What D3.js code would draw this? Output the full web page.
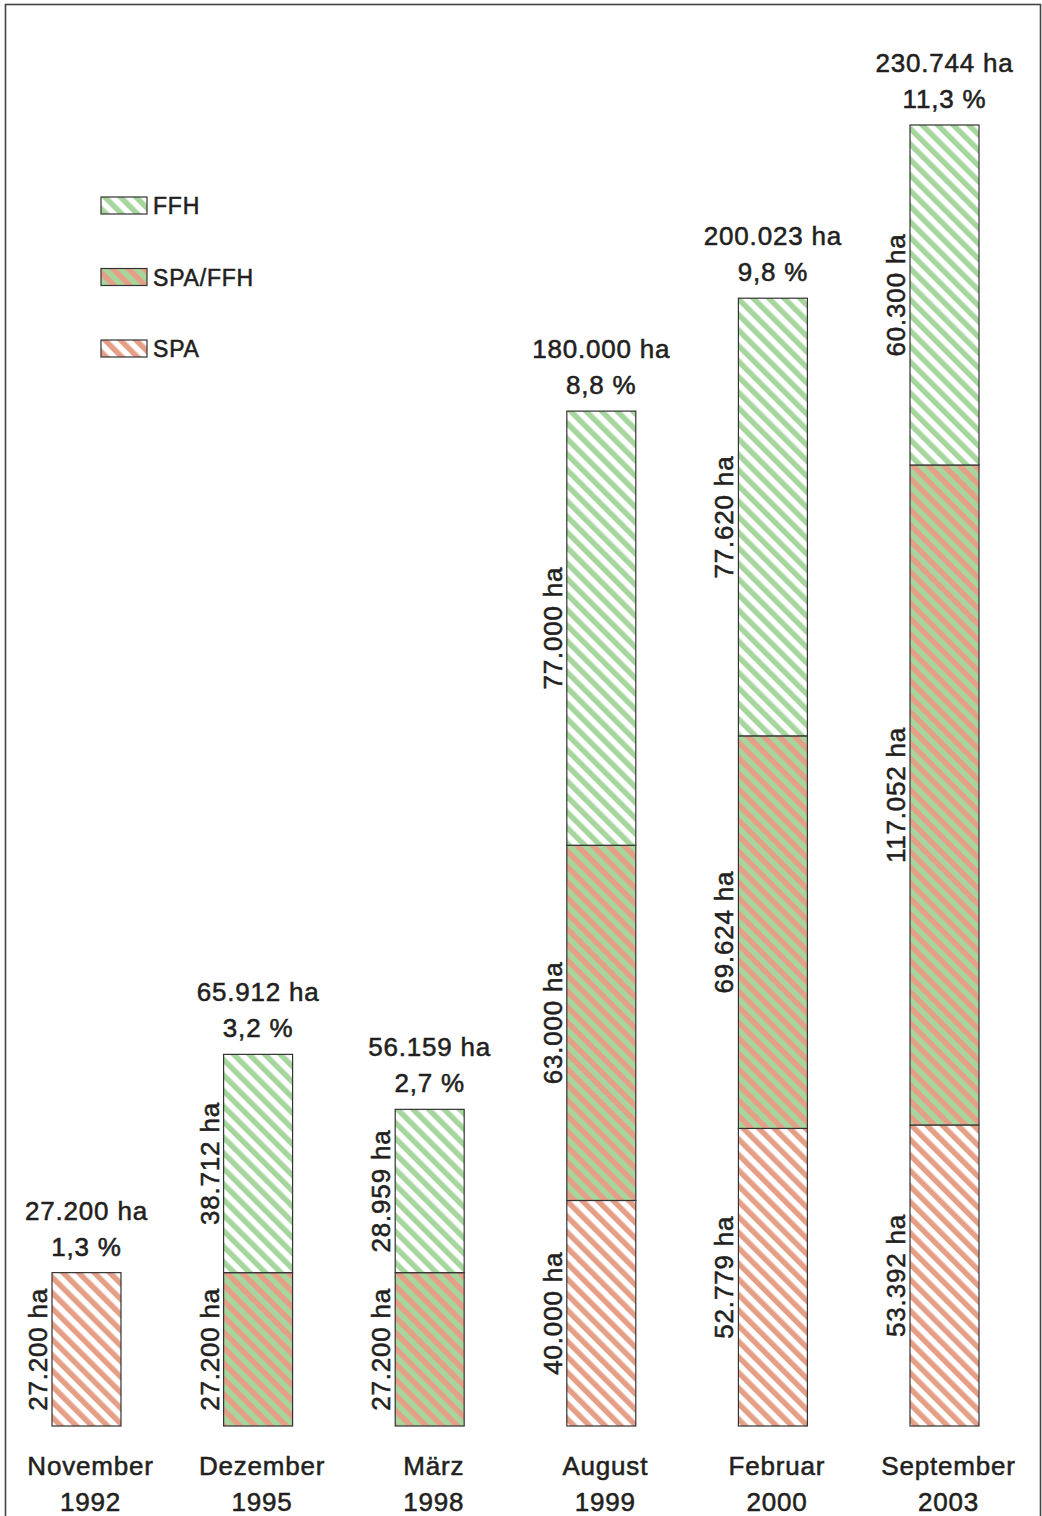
<!DOCTYPE html>
<html>
<head>
<meta charset="utf-8">
<script src="https://cdn.jsdelivr.net/npm/d3@7"></script>
<style>
  html, body { margin: 0; padding: 0; background: #fff; }
  svg { display: block; }
  text { font-family: "Liberation Sans", Arial, Helvetica, sans-serif; fill: #231f20; stroke: #231f20; stroke-width: 0.55px; letter-spacing: 0.8px; }
</style>
</head>
<body>
<svg id="chart" width="1042" height="1516"></svg>
<script>
// ---- data ----
const categories = ["November 1992", "Dezember 1995", "März 1998", "August 1999", "Februar 2000", "September 2003"];
const catLine1 = ["November", "Dezember", "März", "August", "Februar", "September"];
const catLine2 = ["1992", "1995", "1998", "1999", "2000", "2003"];
const seriesKeys = ["SPA", "SPA/FFH", "FFH"];
const spa    = [27200, 0, 0, 40000, 52779, 53392];
const spaFfh = [0, 27200, 27200, 63000, 69624, 117052];
const ffh    = [0, 38712, 28959, 77000, 77620, 60300];
const totals = [27200, 65912, 56159, 180000, 200023, 230744];
const totalLabels = ["27.200 ha", "65.912 ha", "56.159 ha", "180.000 ha", "200.023 ha", "230.744 ha"];
const percentLabels = ["1,3 %", "3,2 %", "2,7 %", "8,8 %", "9,8 %", "11,3 %"];
const legendOrder = ["FFH", "SPA/FFH", "SPA"];

const fmt = v => d3.format(",")(v).replace(/,/g, ".") + " ha";

// ---- setup ----
const svg = d3.select("#chart");
const W = 1042, H = 1516;

// frame
svg.append("rect").attr("x", 5.5).attr("y", 4.5).attr("width", 1035).attr("height", H + 20)
  .attr("fill", "none").attr("stroke", "#444").attr("stroke-width", 1.6);

const green = "#a6d69d", salmon = "#e69f87";
const defs = svg.append("defs");
function stripe(id, bg, fg) {
  const s = 11;
  const p = defs.append("pattern").attr("id", id).attr("patternUnits", "userSpaceOnUse")
    .attr("width", s).attr("height", s).attr("patternTransform", "rotate(-45)");
  p.append("rect").attr("width", s).attr("height", s).attr("fill", bg);
  p.append("rect").attr("width", s / 2).attr("height", s).attr("fill", fg);
}
stripe("pFFH", "#ffffff", green);
stripe("pSPA", "#ffffff", salmon);
stripe("pBOTH", salmon, green);
const fillFor = { "FFH": "url(#pFFH)", "SPA": "url(#pSPA)", "SPA/FFH": "url(#pBOTH)" };

const x = d3.scaleBand().domain(categories).range([52, 979]).paddingInner(0.598).paddingOuter(0);
const y = d3.scaleLinear().domain([0, 230744]).range([1426, 125]);

const rows = categories.map((c, i) => ({ cat: c, "SPA": spa[i], "SPA/FFH": spaFfh[i], "FFH": ffh[i] }));
const stacked = d3.stack().keys(seriesKeys)(rows);

const segs = [];
stacked.forEach(layer => {
  layer.forEach((d, i) => {
    if (d[1] - d[0] > 0) segs.push({ key: layer.key, i, y0: d[0], y1: d[1], v: d[1] - d[0] });
  });
});

// bars
svg.append("g").selectAll("rect").data(segs).join("rect")
  .attr("x", d => x(categories[d.i]))
  .attr("width", x.bandwidth())
  .attr("y", d => y(d.y1))
  .attr("height", d => y(d.y0) - y(d.y1))
  .attr("fill", d => fillFor[d.key])
  .attr("stroke", "#333").attr("stroke-width", 1.2);

// segment labels (rotated)
svg.append("g").selectAll("text").data(segs).join("text")
  .attr("transform", d => `translate(${x(categories[d.i]) - 5},${y((d.y0 + d.y1) / 2)}) rotate(-90)`)
  .attr("text-anchor", "middle")
  .attr("font-size", 26)
  .text(d => fmt(d.v));

// totals
const tg = svg.append("g");
categories.forEach((c, i) => {
  const cx = x(c) + x.bandwidth() / 2;
  tg.append("text").attr("x", cx).attr("y", y(totals[i]) - 53).attr("text-anchor", "middle")
    .attr("font-size", 26).text(totalLabels[i]);
  tg.append("text").attr("x", cx).attr("y", y(totals[i]) - 17).attr("text-anchor", "middle")
    .attr("font-size", 26).text(percentLabels[i]);
});

// category axis labels
const ag = svg.append("g");
categories.forEach((c, i) => {
  const cx = x(c) + x.bandwidth() / 2 + 4;
  ag.append("text").attr("x", cx).attr("y", 1475).attr("text-anchor", "middle")
    .attr("font-size", 26).text(catLine1[i]);
  ag.append("text").attr("x", cx).attr("y", 1511).attr("text-anchor", "middle")
    .attr("font-size", 26).text(catLine2[i]);
});

// legend
const lg = svg.append("g").attr("transform", "translate(101,197)");
legendOrder.forEach((k, i) => {
  const g = lg.append("g").attr("transform", `translate(0,${i * 71.5})`);
  g.append("rect").attr("width", 46).attr("height", 17).attr("fill", fillFor[k])
    .attr("stroke", "#333").attr("stroke-width", 1.2);
  g.append("text").attr("x", 52).attr("y", 17).attr("font-size", 23).text(k);
});
</script>
</body>
</html>
